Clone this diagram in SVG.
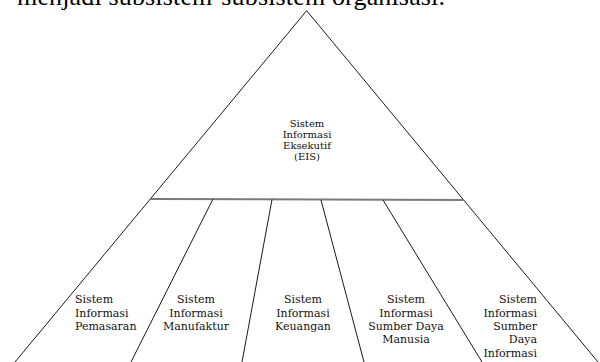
<svg xmlns="http://www.w3.org/2000/svg" width="600" height="362" viewBox="0 0 600 362">
<style>
.ln{stroke:#1a1a1a;stroke-width:1;fill:none}
.hl{stroke:#7a7a7a;stroke-width:2;fill:none}
.lb{font-family:"DejaVu Serif","Liberation Serif",serif;font-size:11px;fill:#111}
.eis{font-family:"DejaVu Serif","Liberation Serif",serif;font-size:10px;fill:#111}
.ttl{font-family:"Liberation Serif","Times New Roman",serif;font-size:26px;fill:#000}
</style>
<rect width="600" height="362" fill="#fff"/>
<text class="ttl" x="17" y="5" textLength="428" lengthAdjust="spacing">menjadi subsistem-subsistem organisasi.</text>
<g id="connectors">
<line class="ln" x1="306.7" y1="10.7" x2="15" y2="362"/>
<line class="ln" x1="306.7" y1="10.7" x2="598" y2="362"/>
<line class="hl" x1="150" y1="199" x2="464" y2="200"/>
<line class="ln" x1="213" y1="199" x2="131" y2="362"/>
<line class="ln" x1="272" y1="199.5" x2="242" y2="362"/>
<line class="ln" x1="321" y1="200" x2="364" y2="362"/>
<line class="ln" x1="383" y1="200" x2="482" y2="362"/>
</g>
<g id="eis" class="eis" text-anchor="middle">
<text x="307" y="127">Sistem</text>
<text x="307" y="138">Informasi</text>
<text x="307" y="149">Eksekutif</text>
<text x="307" y="160">(EIS)</text>
</g>
<g id="pemasaran" class="lb">
<text x="75" y="303">Sistem</text>
<text x="75" y="317">Informasi</text>
<text x="75" y="330">Pemasaran</text>
</g>
<g id="manufaktur" class="lb" text-anchor="middle">
<text x="196" y="303">Sistem</text>
<text x="196" y="317">Informasi</text>
<text x="196" y="330">Manufaktur</text>
</g>
<g id="keuangan" class="lb" text-anchor="middle">
<text x="303" y="303">Sistem</text>
<text x="303" y="317">Informasi</text>
<text x="303" y="330">Keuangan</text>
</g>
<g id="sdm" class="lb" text-anchor="middle">
<text x="406" y="303">Sistem</text>
<text x="406" y="317">Informasi</text>
<text x="406" y="330">Sumber Daya</text>
<text x="406" y="343">Manusia</text>
</g>
<g id="sdi" class="lb" text-anchor="end">
<text x="537" y="303">Sistem</text>
<text x="537" y="317">Informasi</text>
<text x="537" y="330">Sumber</text>
<text x="537" y="343">Daya</text>
<text x="537" y="357">Informasi</text>
</g>
</svg>
